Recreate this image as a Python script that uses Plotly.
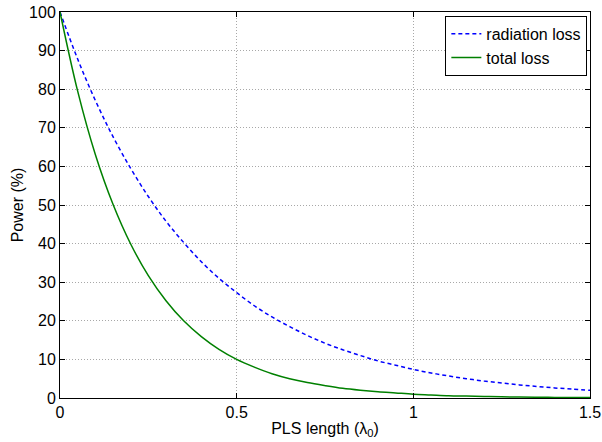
import plotly.graph_objects as go

x_vals = [0, 0.05, 0.1, 0.15, 0.2, 0.25, 0.3, 0.35, 0.4, 0.45, 0.5, 0.55, 0.6, 0.65, 0.7,
          0.75, 0.8, 0.85, 0.9, 0.95, 1.0, 1.05, 1.1, 1.15, 1.2, 1.25, 1.3, 1.35, 1.4, 1.45, 1.5]
radiation_loss = [100, 87.8, 77.1, 67.7, 59.5, 52.2, 45.8, 40.3, 35.3, 31.0, 27.3, 23.9, 21.0,
                  18.5, 16.2, 14.2, 12.5, 11.0, 9.6, 8.5, 7.4, 6.5, 5.7, 5.0, 4.4, 3.9, 3.4,
                  3.0, 2.6, 2.3, 2.0]
total_loss = [100, 79.5, 63.1, 50.2, 39.9, 31.7, 25.2, 20.0, 15.9, 12.6, 10.0, 8.0, 6.3, 5.0,
              4.0, 3.2, 2.5, 2.0, 1.6, 1.3, 1.0, 0.8, 0.6, 0.5, 0.4, 0.3, 0.25, 0.2, 0.16,
              0.13, 0.1]
x_ticks = [0, 0.5, 1, 1.5]
x_tick_text = ["0", "0.5", "1", "1.5"]
y_ticks = list(range(0, 101, 10))

FONT = "Liberation Sans, Arial, sans-serif"
FS = 16

fig = go.Figure()
fig.add_trace(go.Scatter(x=x_vals, y=radiation_loss, mode="lines", name="radiation loss",
                         line=dict(color="#0000ff", dash="4px,3px", width=1.5, shape="spline")))
fig.add_trace(go.Scatter(x=x_vals, y=total_loss, mode="lines", name="total loss",
                         line=dict(color="#008000", width=1.5, shape="spline")))

axis_common = dict(showline=True, linecolor="black", linewidth=1, mirror="ticks",
                   ticks="inside", ticklen=5, tickcolor="black", automargin=False,
                   showgrid=True, gridcolor="#a8a8a8", griddash="1px,2px", gridwidth=1,
                   zeroline=False, tickfont=dict(size=FS, color="black", family=FONT))

fig.update_xaxes(range=[0, 1.5], tickvals=x_ticks, ticktext=x_tick_text,
                 title=dict(text="PLS length (λ<sub>0</sub>)",
                            font=dict(size=FS, color="black", family=FONT), standoff=2),
                 **axis_common)
fig.update_yaxes(range=[0, 100], tickvals=y_ticks,
                 title=dict(text="Power (%)", font=dict(size=FS, color="black", family=FONT),
                            standoff=1),
                 **axis_common)

fig.update_layout(
    width=602, height=442,
    margin=dict(l=60, r=12, t=12, b=44),
    paper_bgcolor="white", plot_bgcolor="white",
    font=dict(family=FONT, size=FS, color="black"),
    legend=dict(x=0.995, y=0.99, xanchor="right", yanchor="top",
                bgcolor="white", bordercolor="black", borderwidth=1,
                font=dict(size=FS, family=FONT), tracegroupgap=0, itemwidth=30),
    showlegend=True,
)

fig.write_html("out.html",
               config={"displayModeBar": False},
               post_script="document.body.style.margin='0';document.body.style.overflow='hidden';")
